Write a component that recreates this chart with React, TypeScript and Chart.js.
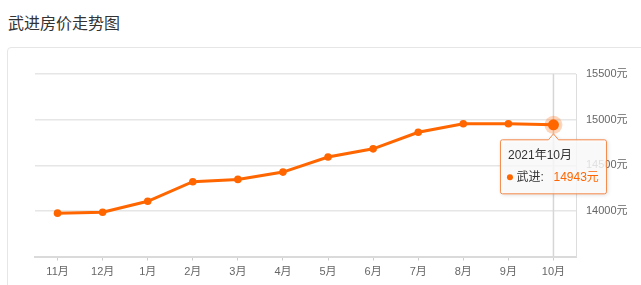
import React, { useEffect, useRef } from 'react';
import { Chart, registerables } from 'chart.js';

Chart.register(...registerables);

const months = ['11月', '12月', '1月', '2月', '3月', '4月', '5月', '6月', '7月', '8月', '9月', '10月'];
const prices = [13975, 13985, 14105, 14320, 14345, 14425, 14590, 14680, 14862, 14955, 14955, 14943];
const yMin = 13500;
const yMax = 15500;
const yStep = 500;
const seriesName = '武进';
const tooltipTitle = '2021年10月';
const unit = '元';
const activeIndex = 11;
const chartTitle = '武进房价走势图';

const ORANGE = '#ff6600';
const FONT = '"Liberation Sans", "Noto Sans CJK SC", sans-serif';

const hoverPlugin = {
  id: 'hoverDecor',
  beforeDatasetsDraw(chart: any) {
    const { ctx, chartArea } = chart;
    const el = chart.getDatasetMeta(0).data[activeIndex];
    if (!el) return;
    const px = el.x;
    const py = el.y;
    ctx.save();
    ctx.strokeStyle = '#d6d6d6';
    ctx.lineWidth = 1.5;
    ctx.beginPath();
    ctx.moveTo(px, chartArea.top);
    ctx.lineTo(px, chartArea.bottom);
    ctx.stroke();
    ctx.fillStyle = 'rgba(255,102,0,0.28)';
    ctx.beginPath();
    ctx.arc(px, py, 9, 0, Math.PI * 2);
    ctx.fill();
    ctx.restore();
  },
  afterDraw(chart: any) {
    const { ctx } = chart;
    const el = chart.getDatasetMeta(0).data[activeIndex];
    if (!el) return;
    const px = el.x;
    const py = el.y;
    const bw = 106;
    const bh = 54;
    const bx = px - bw / 2;
    const by = py + 15;
    const r = 2;
    const aw = 5;
    const ah = 6;
    ctx.save();
    ctx.beginPath();
    ctx.moveTo(bx + r, by);
    ctx.lineTo(px - aw, by);
    ctx.lineTo(px, by - ah);
    ctx.lineTo(px + aw, by);
    ctx.lineTo(bx + bw - r, by);
    ctx.quadraticCurveTo(bx + bw, by, bx + bw, by + r);
    ctx.lineTo(bx + bw, by + bh - r);
    ctx.quadraticCurveTo(bx + bw, by + bh, bx + bw - r, by + bh);
    ctx.lineTo(bx + r, by + bh);
    ctx.quadraticCurveTo(bx, by + bh, bx, by + bh - r);
    ctx.lineTo(bx, by + r);
    ctx.quadraticCurveTo(bx, by, bx + r, by);
    ctx.closePath();
    ctx.shadowColor = 'rgba(0,0,0,0.18)';
    ctx.shadowBlur = 4;
    ctx.shadowOffsetX = 1;
    ctx.shadowOffsetY = 1;
    ctx.fillStyle = 'rgba(255,255,255,0.82)';
    ctx.fill();
    ctx.shadowColor = 'transparent';
    ctx.strokeStyle = '#f5894a';
    ctx.lineWidth = 1;
    ctx.stroke();

    ctx.font = '12px ' + FONT;
    ctx.textBaseline = 'middle';
    ctx.textAlign = 'left';
    ctx.fillStyle = '#333';
    ctx.fillText(tooltipTitle, bx + 7.5, by + 15.5);

    ctx.fillStyle = ORANGE;
    ctx.beginPath();
    ctx.arc(bx + 9.5, by + 37.5, 3, 0, Math.PI * 2);
    ctx.fill();

    ctx.fillStyle = '#333';
    ctx.fillText(seriesName + ':', bx + 16, by + 37.5);
    ctx.fillStyle = ORANGE;
    ctx.fillText(String(prices[activeIndex]) + unit, bx + 53, by + 37.5);
    ctx.restore();
  },
};

export default function App() {
  const canvasRef = useRef<HTMLCanvasElement | null>(null);

  useEffect(() => {
    if (!canvasRef.current) return;
    const chart = new Chart(canvasRef.current, {
      type: 'line',
      data: {
        labels: months,
        datasets: [
          {
            label: seriesName,
            data: prices,
            borderColor: ORANGE,
            backgroundColor: ORANGE,
            borderWidth: 3,
            pointRadius: (c: any) => (c.dataIndex === activeIndex ? 5.5 : 3.8),
            pointBackgroundColor: ORANGE,
            pointBorderWidth: 0,
            tension: 0,
            fill: false,
          },
        ],
      },
      options: {
        responsive: false,
        animation: false,
        layout: { padding: { left: 35, top: 74, right: 0, bottom: 0 } },
        plugins: {
          legend: { display: false },
          tooltip: { enabled: false },
        },
        scales: {
          x: {
            offset: true,
            grid: { drawOnChartArea: false, drawTicks: true, tickLength: 4, color: '#cccccc' },
            border: { display: true, color: '#dadada', width: 2 },
            ticks: {
              color: '#666',
              font: { size: 11, family: FONT },
              padding: 5,
              maxRotation: 0,
              autoSkip: false,
            },
            afterFit: (s: any) => {
              s.height = 28.5;
            },
          },
          y: {
            position: 'right',
            min: yMin,
            max: yMax,
            ticks: {
              stepSize: yStep,
              callback: (v: any) => (Number(v) === yMin ? '' : v + unit),
              padding: 10,
              color: '#666',
              font: { size: 11, family: FONT },
            },
            grid: { color: '#e6e6e6', drawTicks: false, lineWidth: 1.5 },
            border: { display: true, color: '#dddddd', width: 1 },
            afterFit: (s: any) => {
              s.width = 65;
            },
          },
        },
      },
      plugins: [hoverPlugin],
    } as any);
    return () => chart.destroy();
  }, []);

  return (
    <div
      style={{
        position: 'fixed',
        left: 0,
        top: 0,
        width: 641,
        height: 285,
        overflow: 'hidden',
        background: '#fff',
      }}
    >
      <div
        style={{
          position: 'absolute',
          left: 8,
          top: 14,
          fontSize: 16,
          lineHeight: '16px',
          color: '#333',
          fontFamily: '"Noto Sans CJK SC", sans-serif',
          whiteSpace: 'nowrap',
        }}
      >
        {chartTitle}
      </div>
      <div
        style={{
          position: 'absolute',
          left: 7,
          top: 47,
          width: 720,
          height: 320,
          border: '1px solid #e6e6e6',
          borderRadius: 4,
          boxSizing: 'border-box',
        }}
      />
      <canvas
        ref={canvasRef}
        width={641}
        height={285}
        style={{ position: 'absolute', left: 0, top: 0, display: 'block' }}
      />
    </div>
  );
}
